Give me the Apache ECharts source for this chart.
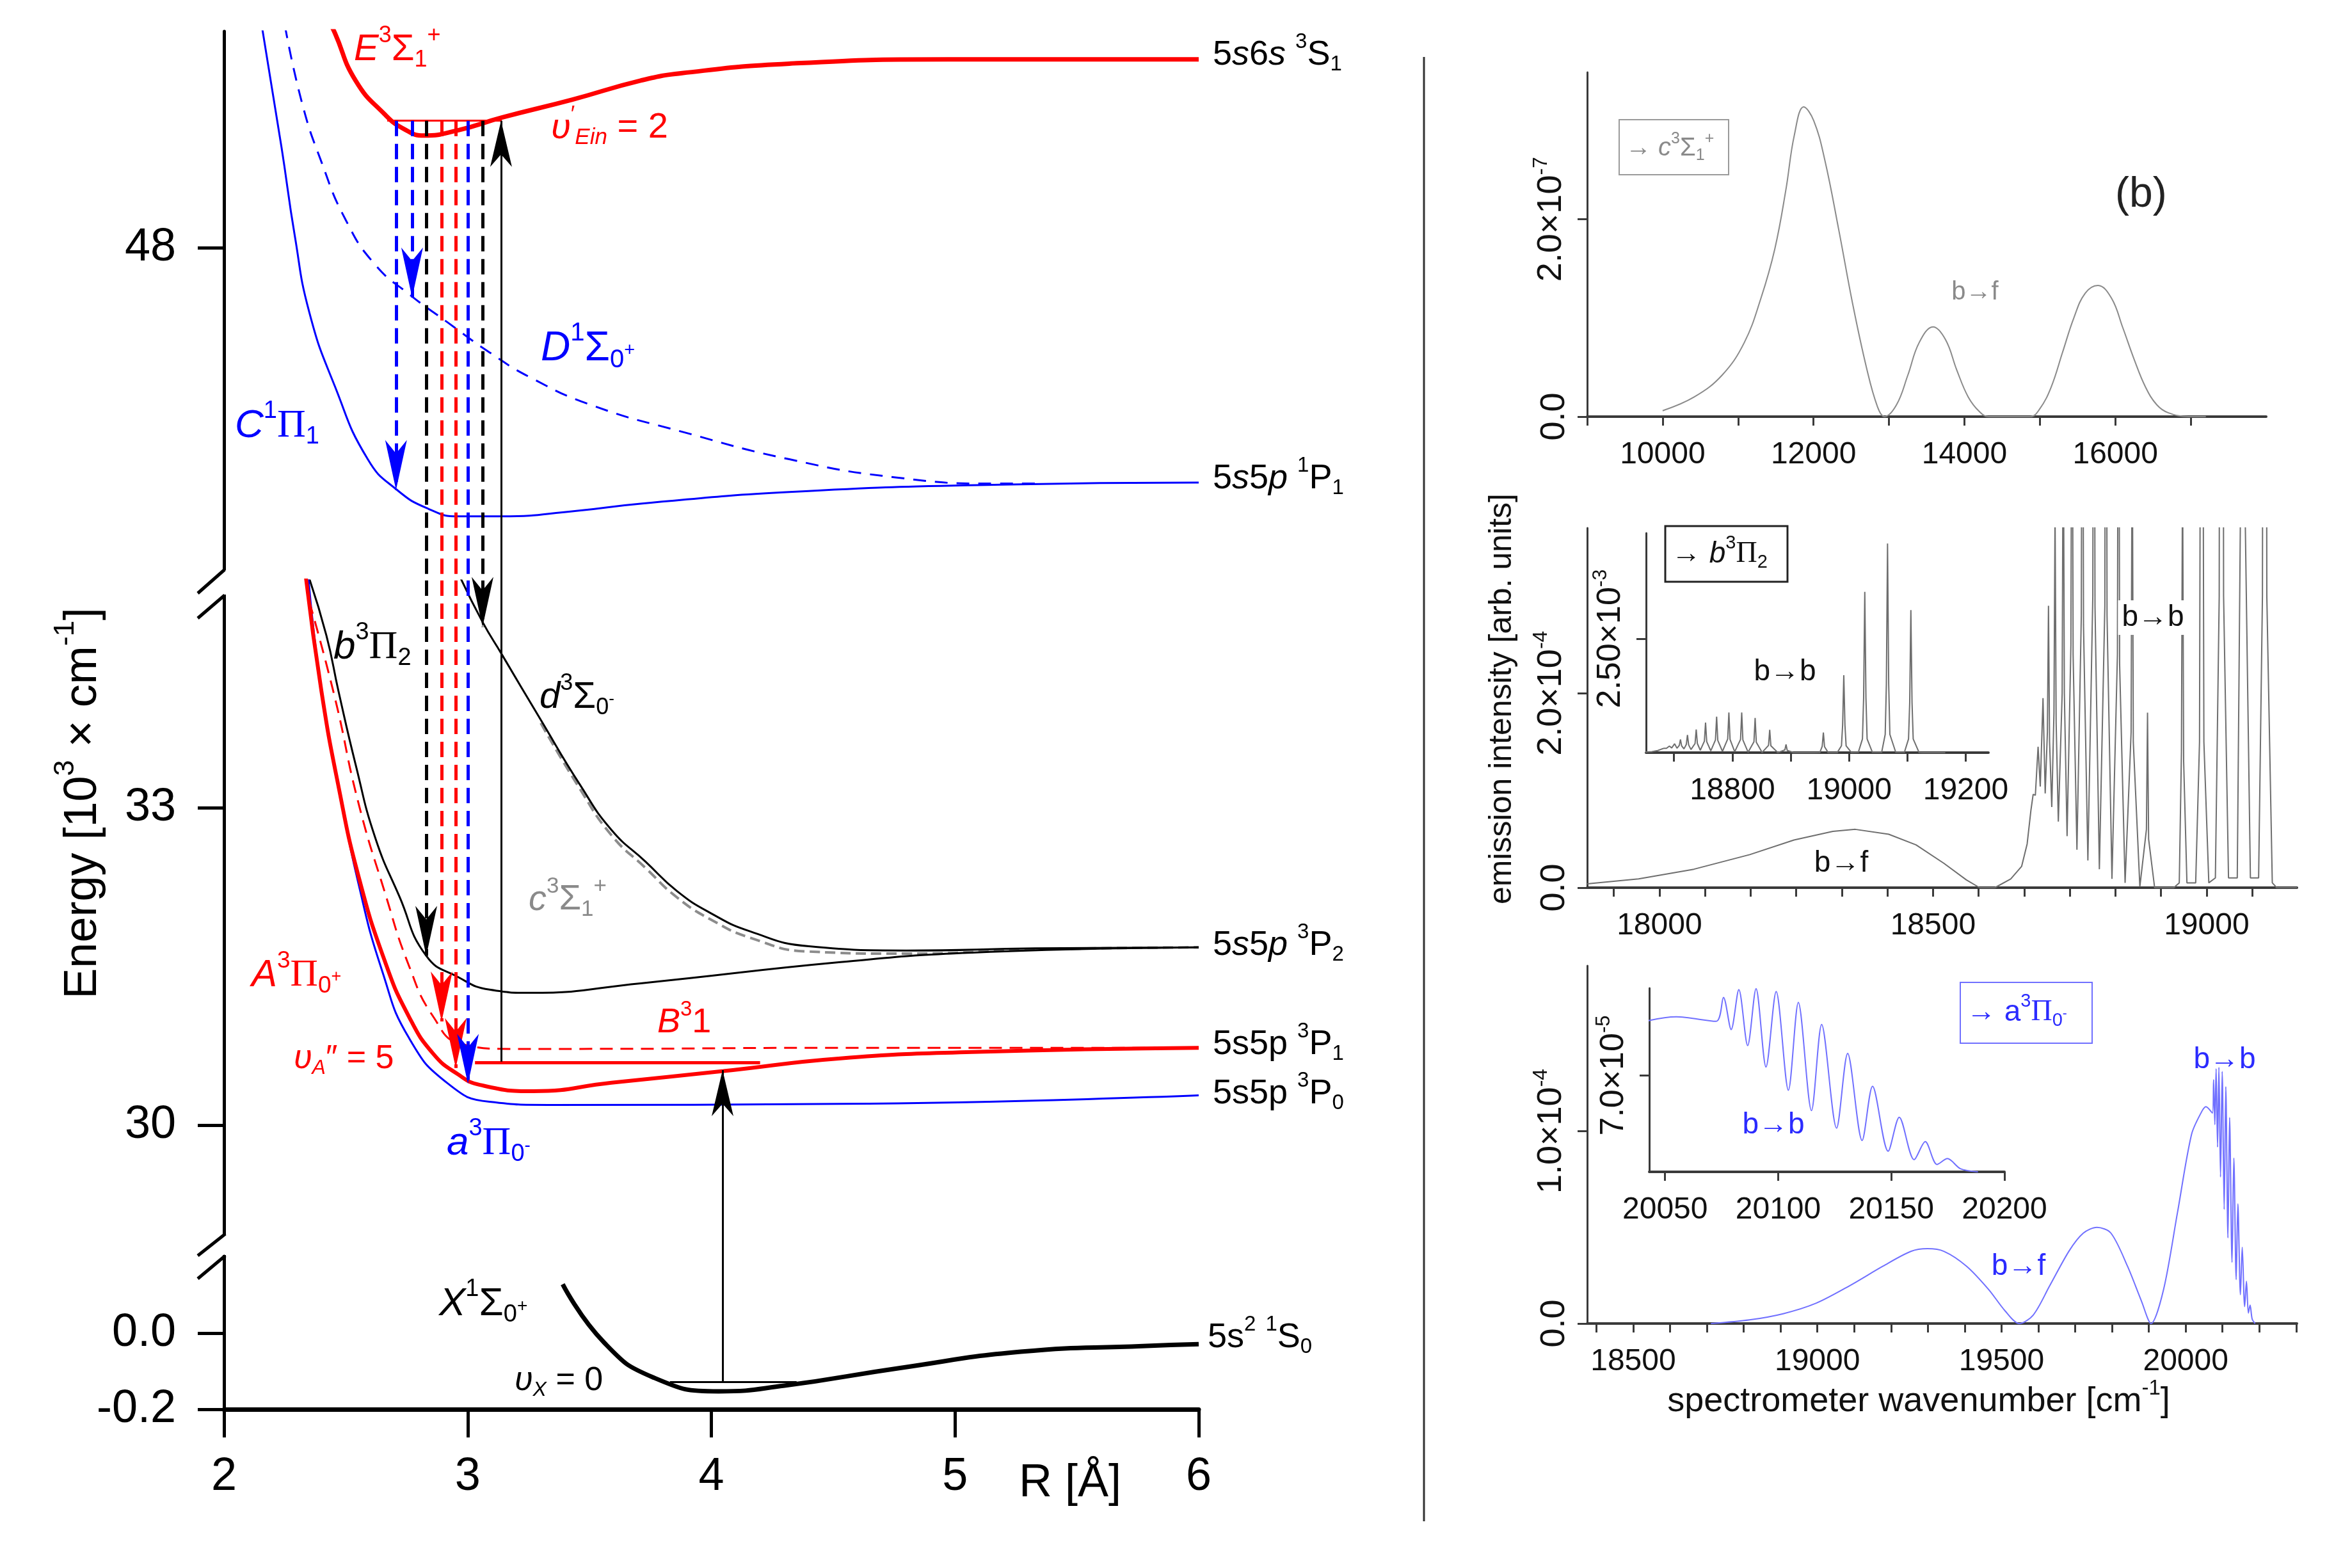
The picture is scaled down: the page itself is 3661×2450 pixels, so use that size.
<!DOCTYPE html>
<html><head><meta charset="utf-8">
<script src="https://cdn.jsdelivr.net/npm/echarts@6/dist/echarts.min.js"></script>
<style>html,body{margin:0;padding:0;background:#fff}#c{width:3661px;height:2450px}</style>
</head><body><div id="c"></div>
<script>
// ---------- Left panel: potential curves (R [Å], Energy [10^3 cm^-1]) ----------
const curveE = [[2.44,50.1],[2.455,50.03],[2.54,49.58],[2.66,49.26],[2.74,49.12],[2.82,49.06],[2.96,49.11],[3.14,49.23],[3.43,49.40],[3.71,49.58],[3.88,49.65],[4.32,49.74],[4.97,49.78],[6.0,49.78]];
const curveC = [[2.155,50.1],[2.236,48.95],[2.29,48.12],[2.35,47.39],[2.455,46.69],[2.59,46.0],[2.71,45.71],[2.84,45.53],[2.96,45.46],[3.14,45.46],[3.44,45.51],[3.71,45.58],[4.32,45.69],[5.19,45.76],[6.0,45.78]];
const curveD = [[2.25,50.1],[2.32,49.37],[2.40,48.81],[2.50,48.26],[2.62,47.84],[2.76,47.56],[2.92,47.29],[3.09,47.01],[3.26,46.77],[3.51,46.51],[3.88,46.26],[4.32,46.0],[4.75,45.83],[5.17,45.77],[5.35,45.77]];
const curveb = [[2.345,35.2],[2.42,34.63],[2.47,34.10],[2.54,33.41],[2.62,32.72],[2.72,32.16],[2.83,31.60],[2.96,31.40],[3.09,31.28],[3.26,31.25],[3.71,31.34],[4.53,31.54],[5.07,31.63],[6.0,31.68]];
const curved = [[2.965,35.2],[3.06,34.76],[3.14,34.45],[3.30,33.83],[3.46,33.22],[3.59,32.79],[3.73,32.49],[3.86,32.21],[4.0,32.0],[4.16,31.83],[4.40,31.69],[4.80,31.65],[5.33,31.67],[6.0,31.68]];
const curvec = [[3.30,33.80],[3.46,33.18],[3.59,32.74],[3.73,32.43],[3.86,32.15],[4.0,31.94],[4.16,31.77],[4.40,31.64],[4.80,31.62],[5.33,31.66],[6.0,31.68]];
const curveA = [[2.335,35.2],[2.40,34.1],[2.47,33.20],[2.55,32.37],[2.66,31.55],[2.76,31.02],[2.86,30.67],[2.96,30.48],[3.05,30.38],[3.27,30.32],[3.59,30.40],[4.05,30.51],[4.53,30.63],[5.07,30.69],[6.0,30.73]];
const curveB = [[2.35,34.95],[2.455,34.04],[2.55,33.06],[2.66,32.20],[2.76,31.50],[2.86,31.02],[2.97,30.77],[3.17,30.72],[3.46,30.72],[4.5,30.73],[6.0,30.73]];
const curvea = [[2.345,35.2],[2.40,34.1],[2.47,33.20],[2.55,32.30],[2.65,31.45],[2.76,30.82],[2.92,30.39],[3.09,30.22],[3.33,30.19],[4.53,30.20],[6.0,30.28]];
const curveX = [[3.39,0.128],[3.56,-0.025],[3.76,-0.116],[4.03,-0.153],[4.30,-0.138],[4.77,-0.092],[5.27,-0.049],[5.77,-0.034],[6.0,-0.029]];
// vibrational levels
const levelE = [[2.67,49.2],[3.14,49.2]];
const levelA = [[3.03,30.59],[4.2,30.59]];
const levelX = [[3.83,-0.129],[4.35,-0.129]];
// emission transitions from E (v'=2) downwards
const transR = [2.706,2.772,2.830,2.893,2.951,3.001,3.061];
const transTop = 49.2;
const transEnd = [45.71,47.53,31.60,30.98,30.54,30.39,34.71];
const transColor = ['#0000ff','#0000ff','#000000','#ff0000','#ff0000','#0000ff','#000000'];
// excitation arrows
const pumpR = 3.137, pumpFrom = 30.60, pumpTo = 49.2;
const probeR = 4.046, probeFrom = -0.129, probeTo = 30.52;
// left y tick labels
const topTicks = [48], midTicks = [30,33], botTicks = [-0.2,0.0], rTicks = [2,3,4,5,6];

// ---------- Right panels: spectra ----------
// (units: panel 1 1e-7, panel 2 1e-4, panel 3 1e-5)
const specC = [[10000,0.06],[10420,0.2],[10788,0.42],[11082,0.75],[11303,1.2],[11487,1.7],[11634,2.3],[11745,2.85],[11870,3.14],[12003,3.0],[12150,2.6],[12333,1.9],[12517,1.15],[12701,0.5],[12848,0.1],[12940,0],
 [13100,0.12],[13250,0.42],[13400,0.75],[13584,0.91],[13750,0.78],[13900,0.47],[14050,0.2],[14200,0.05],[14320,0],[14872,0],
 [15000,0.08],[15150,0.3],[15300,0.65],[15450,1.0],[15600,1.25],[15770,1.33],[15950,1.2],[16100,0.9],[16250,0.58],[16400,0.3],[16550,0.12],[16700,0.04],[16970,0],[17200,0]];
const specB = [[17868,0.04],[17962,0.09],[18063,0.19],[18165,0.34],[18246,0.49],[18317,0.58],[18358,0.60],[18419,0.55],[18469,0.44],[18520,0.25],[18561,0.08],[18585,0],[18613,0],[18642,0.09],[18662,0.22],[18672,0.45],[18679,0.8],
 [18683,0.96],[18687,0.95],[18692,1.45],[18696,1.04],[18701,1.95],[18705,0.97],[18709,1.6],[18711,2.9],[18713,1.5],[18717,0.83],[18721,1.8],[18723,3.9],[18725,1.7],[18729,0.68],
 [18736,2.0],[18738,5.1],[18740,2.0],[18745,0.53],[18752,2.5],[18754,6.6],[18756,2.4],[18763,0.39],[18771,2.8],[18773,7.9],[18775,2.7],[18783,0.28],
 [18792,3.0],[18794,8.8],[18796,2.9],[18804,0.19],[18814,2.9],[18816,8.8],[18818,2.8],[18827,0.09],[18837,2.4],[18839,7.6],[18841,2.3],[18851,0.05],
 [18862,1.6],[18864,5.0],[18866,1.5],[18878,0.01],[18890,0.6],[18892,1.8],[18894,0.5],[18905,0],[18940,0],[18950,0.05],[18954,1.4],[18956,4.4],[18958,1.3],[18964,0.05],
 [18980,0.05],[18987,1.5],[18989,6.0],[18991,17.0],[18993,6.0],[18995,1.5],[19004,0.05],[19016,0.1],[19023,3.0],[19025,12.0],[19027,35.3],[19029,12.0],[19031,3.0],[19040,0.1],
 [19056,0.1],[19062,4.0],[19064,15.0],[19066,45.9],[19068,15.0],[19070,4.0],[19080,0.1],[19095,0.1],[19102,3.0],[19104,11.0],[19106,31.3],[19108,11.0],[19110,3.0],[19120,0.05],[19128,0],[19165,0]];
const specA = [[18711,0],[18816,0.19],[18907,0.51],[18997,1.06],[19088,1.97],[19178,2.98],[19254,3.75],[19299,3.89],[19344,3.75],[19405,2.98],[19465,1.77],[19510,0.65],[19548,0],
 [19586,0.44],[19631,1.97],[19684,3.79],[19722,4.7],[19759,5.0],[19797,4.7],[19842,2.98],[19880,1.16],[19906,0],[19940,1.77],[19978,5.8],[20016,9.84],[20043,11.0],[20055,11.27],
 [20072.6,10.94],[20075.8,12.68],[20079.2,10.34],[20082.6,13.24],[20086.5,9.17],[20090.2,13.32],[20094.6,7.62],[20099.1,13.1],[20104.5,5.93],[20108.9,12.31],[20114.7,4.45],
 [20119.2,10.71],[20125.8,3.18],[20130.7,8.60],[20137.1,2.28],[20141.7,6.22],[20148.6,1.50],[20153.5,3.97],[20160.1,0.88],[20165.0,2.20],[20170.2,0.54],[20174.8,0.96],[20180.5,0.23],[20188.3,0]];
const p1XLabels = [10000,12000,14000,16000];
const p2XLabels = [18000,18500,19000];
const p3XLabels = [18500,19000,19500,20000];
const in2XLabels = [18800,19000,19200];
const in3XLabels = [20050,20100,20150,20200];

// ---------- helpers ----------
const FONT = 'Liberation Sans';
const RED = '#ff0000', BLUE = '#0000ff', BLACK = '#000000', GRAY = '#8a8a8a';
function mkRich(s, c) {
  const b = {fontFamily: FONT, fontSize: s, fill: c, color: c};
  return {
    n: b,
    i: Object.assign({}, b, {fontStyle: 'italic'}),
    p: Object.assign({}, b, {fontFamily: 'Liberation Serif'}),
    sup: Object.assign({}, b, {fontSize: Math.round(s*0.62), padding: [0,0,Math.round(s*0.75),0]}),
    sub: Object.assign({}, b, {fontSize: Math.round(s*0.62), padding: [Math.round(s*0.55),0,0,0]}),
    isub: Object.assign({}, b, {fontSize: Math.round(s*0.62), fontStyle: 'italic', padding: [Math.round(s*0.55),0,0,0]}),
    ssp: Object.assign({}, b, {fontSize: Math.round(s*0.45), padding: [Math.round(s*0.1),0,0,0]})
  };
}
function txt(t, x, y, s, c, opt) {
  opt = opt || {};
  const st = {text: t, rich: mkRich(s, c), fill: c, fontSize: s, fontFamily: FONT, align: opt.align || 'left', verticalAlign: 'middle'};
  if (opt.bg) { st.backgroundColor = opt.bg; st.padding = [4, 6]; }
  const el = {type: 'text', x: x, y: y, z: 100, style: st};
  if (opt.rot) el.rotation = opt.rot;
  return el;
}
const RANGES = [[44.854,50.045],[28.880,35.148],[-0.2,0.235]];
function segmentsFor(r, yFrom, yTo) {
  const out = [], lo = Math.min(yFrom,yTo), hi = Math.max(yFrom,yTo);
  RANGES.forEach((rg, gi) => {
    const a = Math.max(lo, rg[0]), b = Math.min(hi, rg[1]);
    if (b > a) out.push({gi: gi, coords: yFrom > yTo ? [[r,b],[r,a]] : [[r,a],[r,b]]});
  });
  return out;
}
function gridOf(y) { for (let i=0;i<RANGES.length;i++) if (y>=RANGES[i][0] && y<=RANGES[i][1]) return i; return 0; }
const ARROW_DOWN = 'path://M0,26L-10,0L0,7L10,0Z';
const ARROW_UP = 'path://M0,0L10,26L0,19L-10,26Z';

const dashedSeg = [[],[],[]], solidSeg = [[],[],[]], heads = [[],[],[]];
transR.forEach((r,k) => {
  segmentsFor(r, transTop, transEnd[k]).forEach(s => dashedSeg[s.gi].push({coords: s.coords, lineStyle: {color: transColor[k], opacity: 1}}));
  heads[gridOf(transEnd[k])].push({value: [r, transEnd[k]], symbol: ARROW_DOWN, symbolSize: [34,78], symbolOffset: [0,'-50%'], itemStyle: {color: transColor[k], opacity: 1}});
});
[[pumpR,pumpFrom,pumpTo],[probeR,probeFrom,probeTo]].forEach(a => {
  segmentsFor(a[0], a[1], a[2]).forEach(s => solidSeg[s.gi].push({coords: s.coords, lineStyle: {color: BLACK, opacity: 1}}));
  heads[gridOf(a[2])].push({value: [a[0], a[2]], symbol: ARROW_UP, symbolSize: [34,72], symbolOffset: [0,'50%'], itemStyle: {color: BLACK, opacity: 1}});
});

// ---------- axes ----------
const plain = v => String(v);
function leftY(gi, rg, ticks, fmt) {
  return {gridIndex: gi, type: 'value', min: rg[0], max: rg[1],
    axisLine: {show: true, lineStyle: {color: '#000', width: 5}},
    axisTick: {show: true, customValues: ticks, length: 41, lineStyle: {width: 5, color: '#000'}},
    axisLabel: {customValues: ticks, formatter: fmt, fontSize: 72, color: '#000', margin: 75, fontFamily: FONT},
    splitLine: {show: false}};
}
function hiddenX(gi) { return {gridIndex: gi, type: 'value', min: 2, max: 6, show: false, splitLine: {show: false}}; }
function rightX(gi, min, max, ticks, labels, lw) {
  return {gridIndex: gi, type: 'value', min: min, max: max,
    axisLine: {show: true, onZero: false, lineStyle: {color: '#3a3a3a', width: lw}},
    axisTick: {show: true, customValues: ticks, length: 14, lineStyle: {width: 3, color: '#3a3a3a'}},
    axisLabel: {customValues: labels, formatter: plain, fontSize: 48, color: '#111', margin: 36, fontFamily: FONT},
    splitLine: {show: false}};
}
function rightY(gi, min, max, ticks, fmt, fs) {
  return {gridIndex: gi, type: 'value', min: min, max: max,
    axisLine: {show: true, lineStyle: {color: '#3a3a3a', width: 3}},
    axisTick: {show: true, customValues: ticks, length: 15, lineStyle: {width: 3, color: '#3a3a3a'}},
    axisLabel: {customValues: ticks, rotate: 90, margin: 24, color: '#111', fontSize: fs, fontFamily: FONT,
      formatter: fmt,
      rich: {m: {fontSize: fs, fontFamily: FONT, color: '#111'}, e: {fontSize: Math.round(fs*0.6), fontFamily: FONT, color: '#111', padding: [0,0,Math.round(fs*0.6),0]}}},
    splitLine: {show: false}};
}
function stepTicks(a, b, st) { const r = []; for (let v = a; v <= b + 1e-6; v += st) r.push(+v.toFixed(3)); return r; }
const p2Ticks = []; for (let k = -1; k <= 13; k++) { const v = 18000 + k*500/6; if (v >= 17868 && v <= 19165) p2Ticks.push(v); }

const grids = [
  {left: 350, top: 49, width: 1523, height: 858},
  {left: 350, top: 907, width: 1523, height: 1036},
  {left: 350, top: 1943, width: 1523, height: 259},
  {left: 2480, top: 113, width: 1061, height: 538},
  {left: 2480, top: 825, width: 1109, height: 562},
  {left: 2572, top: 833, width: 535, height: 343},
  {left: 2480, top: 1509, width: 1109, height: 559},
  {left: 2577, top: 1544, width: 555, height: 287}
].map(g => Object.assign(g, {containLabel: false, outerBoundsMode: 'none'}));

const xAxes = [
  hiddenX(0), hiddenX(1),
  {gridIndex: 2, type: 'value', min: 2, max: 6,
    axisLine: {show: true, onZero: false, lineStyle: {color: '#000', width: 7}},
    axisTick: {show: true, customValues: rTicks, length: 44, lineStyle: {width: 5, color: '#000'}},
    axisLabel: {customValues: rTicks, formatter: plain, fontSize: 72, color: '#000', margin: 70, fontFamily: FONT},
    splitLine: {show: false}},
  rightX(3, 9000, 18000, stepTicks(9000, 17000, 1000), p1XLabels, 4),
  rightX(4, 17868, 19165, p2Ticks, p2XLabels, 4),
  rightX(5, 18652, 19239, stepTicks(18700, 19200, 100), in2XLabels, 4),
  rightX(6, 18375, 20302, stepTicks(18400, 20300, 100), p3XLabels, 4),
  rightX(7, 20043, 20200, in3XLabels, in3XLabels, 4)
];
const yAxes = [
  leftY(0, RANGES[0], topTicks, v => String(Math.round(v))),
  leftY(1, RANGES[1], midTicks, v => String(Math.round(v))),
  leftY(2, RANGES[2], botTicks, v => v.toFixed(1)),
  rightY(3, 0, 3.49, [0, 2], v => v === 0 ? '{m|0.0}' : '{m|2.0×10}{e|-7}', 54),
  rightY(4, 0, 3.70, [0, 2], v => v === 0 ? '{m|0.0}' : '{m|2.0×10}{e|-4}', 54),
  rightY(5, 0, 48.2, [25], v => '{m|2.50×10}{e|-3}', 52),
  rightY(6, 0, 18.6, [0, 10], v => v === 0 ? '{m|0.0}' : '{m|1.0×10}{e|-4}', 54),
  rightY(7, 0, 13.35, [7], v => '{m|7.0×10}{e|-5}', 52)
];

// ---------- series ----------
function curve(gi, data, color, width, type, z) {
  return {type: 'line', xAxisIndex: gi, yAxisIndex: gi, data: data, showSymbol: false, symbol: 'none',
    smooth: 0.5, clip: true, silent: true, z: z || 3,
    lineStyle: {color: color, width: width, type: type || 'solid', opacity: 1}};
}
function seg(gi, data, color, width, z) {
  return {type: 'lines', coordinateSystem: 'cartesian2d', xAxisIndex: gi, yAxisIndex: gi, silent: true, z: z || 5,
    lineStyle: {color: color, width: width, type: 'solid', opacity: 1}, data: [{coords: data}]};
}
const series = [
  curve(0, curveC, BLUE, 3),
  curve(0, curveD, BLUE, 3, [20, 14]),
  curve(0, curveE, RED, 7, 'solid', 4),
  curve(1, curvec, '#8c8c8c', 4, [16, 8]),
  curve(1, curved, BLACK, 3),
  curve(1, curveb, BLACK, 3),
  curve(1, curvea, BLUE, 3),
  curve(1, curveB, RED, 3, [20, 12]),
  curve(1, curveA, RED, 6, 'solid', 4),
  curve(2, curveX, BLACK, 7),
  seg(0, levelE, RED, 3),
  seg(1, levelA, RED, 5),
  seg(2, levelX, BLACK, 3)
];
[0,1,2].forEach(gi => {
  series.push({type: 'lines', coordinateSystem: 'cartesian2d', xAxisIndex: gi, yAxisIndex: gi, silent: true, z: 6,
    lineStyle: {width: 5, type: [24, 12], opacity: 1}, data: dashedSeg[gi]});
  series.push({type: 'lines', coordinateSystem: 'cartesian2d', xAxisIndex: gi, yAxisIndex: gi, silent: true, z: 6,
    lineStyle: {width: 3, type: 'solid', opacity: 1}, data: solidSeg[gi]});
  series.push({type: 'scatter', xAxisIndex: gi, yAxisIndex: gi, silent: true, z: 7, data: heads[gi]});
});
function spec(gi, data, color, smooth) {
  return {type: 'line', xAxisIndex: gi, yAxisIndex: gi, data: data, showSymbol: false, symbol: 'none',
    smooth: smooth, clip: true, silent: true, lineStyle: {color: color, width: 2}};
}
series.push(spec(3, specC, '#8a8a8a', 0.4));
series.push(spec(4, specB, '#6e6e6e', false));
series.push(spec(5, specB, '#6e6e6e', false));
series.push(spec(6, specA, '#7070ff', 0.3));
series.push(spec(7, specA, '#7070ff', 0.3));

// ---------- annotations ----------
const leftLabels = [
  ['{i|E}{sup|3}{n|Σ}{sub|1}{sup|+}', 553, 78, 58, RED],
  ['{i|υ}{sup|′}{isub|Ein}{n| = 2}', 861, 200, 56, RED],
  ['{i|D}{sup|1}{n|Σ}{sub|0}{ssp|+}', 845, 545, 64, BLUE],
  ['{i|C}{sup|1}{p|Π}{sub|1}', 367, 666, 62, BLUE],
  ['{n|5}{i|s}{n|6}{i|s}{n| }{sup|3}{n|S}{sub|1}', 1895, 86, 54, BLACK],
  ['{n|5}{i|s}{n|5}{i|p}{n| }{sup|1}{n|P}{sub|1}', 1895, 748, 54, BLACK],
  ['{i|b}{sup|3}{p|Π}{sub|2}', 521, 1012, 62, BLACK],
  ['{i|d}{sup|3}{n|Σ}{sub|0}{ssp|-}', 843, 1090, 58, BLACK],
  ['{i|c}{sup|3}{n|Σ}{sub|1}{sup|+}', 826, 1406, 56, GRAY],
  ['{n|5}{i|s}{n|5}{i|p}{n| }{sup|3}{n|P}{sub|2}', 1895, 1477, 54, BLACK],
  ['{i|A}{sup|3}{p|Π}{sub|0}{ssp|+}', 393, 1524, 60, RED],
  ['{i|B}{sup|3}{n|1}', 1027, 1598, 54, RED],
  ['{i|υ}{isub|A}{n|″ = 5}', 459, 1655, 52, RED],
  ['{n|5s5p }{sup|3}{n|P}{sub|1}', 1895, 1632, 54, BLACK],
  ['{n|5s5p }{sup|3}{n|P}{sub|0}', 1895, 1709, 54, BLACK],
  ['{i|a}{sup|3}{p|Π}{sub|0}{ssp|-}', 698, 1787, 62, BLUE],
  ['{i|X}{sup|1}{n|Σ}{sub|0}{ssp|+}', 686, 2038, 62, BLACK],
  ['{i|υ}{isub|X}{n| = 0}', 804, 2158, 52, BLACK],
  ['{n|5s}{sup|2}{n| }{sup|1}{n|S}{sub|0}', 1887, 2090, 54, BLACK],
  ['{n|R [Å]}', 1592, 2318, 72, BLACK]
];
const graphics = leftLabels.map(l => txt(l[0], l[1], l[2], l[3], l[4]));
graphics.push(txt('{n|Energy [10}{sup|3}{n| × cm}{sup|-1}{n|]}', 130, 1255, 72, BLACK, {align: 'center', rot: Math.PI/2}));
// axis breaks
graphics.push({type: 'rect', z: 90, shape: {x: 340, y: 891, width: 22, height: 38}, style: {fill: '#fff'}});
graphics.push({type: 'rect', z: 90, shape: {x: 340, y: 1929, width: 22, height: 32}, style: {fill: '#fff'}});
[[351,890,309,927],[351,930,309,966],[352,1928,309,1962],[352,1962,309,1998]].forEach(s =>
  graphics.push({type: 'line', z: 91, shape: {x1: s[0], y1: s[1], x2: s[2], y2: s[3]}, style: {stroke: '#000', lineWidth: 5}}));
// divider
graphics.push({type: 'line', z: 90, shape: {x1: 2225, y1: 89, x2: 2225, y2: 2377}, style: {stroke: '#333', lineWidth: 3}});
// right panel texts
graphics.push(txt('{n|emission intensity [arb. units]}', 2347, 1092, 50, '#111', {align: 'center', rot: Math.PI/2}));
graphics.push(txt('{n|spectrometer wavenumber [cm}{sup|-1}{n|]}', 2998, 2190, 54, '#111', {align: 'center'}));
graphics.push(txt('{n|(b)}', 3305, 305, 66, '#222'));
graphics.push({type: 'rect', z: 95, shape: {x: 2530, y: 187, width: 171, height: 86}, style: {fill: 'none', stroke: '#9a9a9a', lineWidth: 2}});
graphics.push(txt('{n|→ }{i|c}{sup|3}{n|Σ}{sub|1}{sup|+}', 2540, 232, 40, GRAY));
graphics.push({type: 'rect', z: 95, shape: {x: 2602, y: 822, width: 191, height: 87}, style: {fill: '#fff', stroke: '#222', lineWidth: 3}});
graphics.push(txt('{n|→ }{i|b}{sup|3}{p|Π}{sub|2}', 2612, 866, 46, '#111'));
graphics.push({type: 'rect', z: 95, shape: {x: 3063, y: 1535, width: 206, height: 95}, style: {fill: '#fff', stroke: '#7070ff', lineWidth: 2}});
graphics.push(txt('{n|→ a}{sup|3}{p|Π}{sub|0}{ssp|-}', 3073, 1582, 46, '#2b2bff'));
graphics.push(txt('{n|b→f}', 3086, 457, 40, GRAY, {align: 'center'}));
graphics.push(txt('{n|b→f}', 2877, 1349, 46, '#111', {align: 'center'}));
graphics.push(txt('{n|b→b}', 2789, 1050, 46, '#111', {align: 'center'}));
graphics.push(txt('{n|b→b}', 3364, 965, 46, '#111', {align: 'center', bg: '#fff'}));
graphics.push(txt('{n|b→f}', 3154, 1979, 46, '#2b2bff', {align: 'center'}));
graphics.push(txt('{n|b→b}', 3476, 1656, 46, '#2b2bff', {align: 'center'}));
graphics.push(txt('{n|b→b}', 2771, 1758, 46, '#2b2bff', {align: 'center'}));

const chart = echarts.init(document.getElementById('c'), null, {renderer: 'canvas'});
chart.setOption({
  animation: false,
  backgroundColor: '#fff',
  textStyle: {fontFamily: FONT},
  grid: grids, xAxis: xAxes, yAxis: yAxes, series: series, graphic: graphics
});
</script></body></html>
